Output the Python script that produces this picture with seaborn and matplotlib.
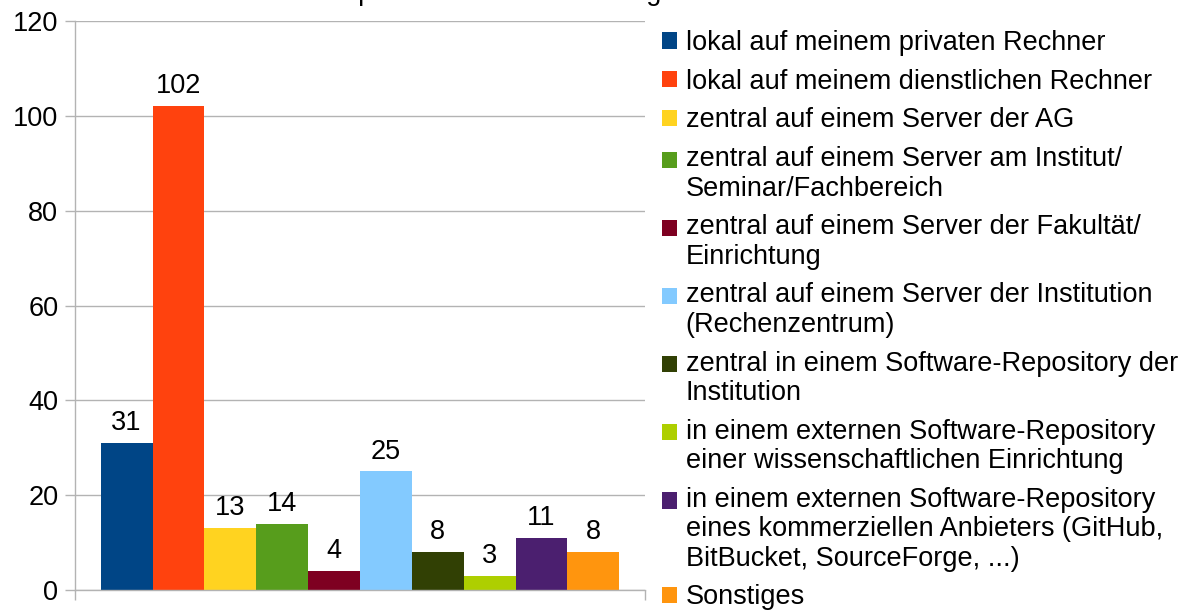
import pandas as pd
import matplotlib
matplotlib.use("Agg")
import matplotlib.pyplot as plt
from matplotlib.patches import Rectangle
from matplotlib.legend_handler import HandlerPatch
import seaborn as sns

# Werte
kategorien = [
    "lokal auf meinem privaten Rechner",
    "lokal auf meinem dienstlichen Rechner",
    "zentral auf einem Server der AG",
    "zentral auf einem Server am Institut/\nSeminar/Fachbereich",
    "zentral auf einem Server der Fakultät/\nEinrichtung",
    "zentral auf einem Server der Institution\n(Rechenzentrum)",
    "zentral in einem Software-Repository der\nInstitution",
    "in einem externen Software-Repository\neiner wissenschaftlichen Einrichtung",
    "in einem externen Software-Repository\neines kommerziellen Anbieters (GitHub,\nBitBucket, SourceForge, ...)",
    "Sonstiges",
]
anzahl = [31, 102, 13, 14, 4, 25, 8, 3, 11, 8]
farben = ["#004586", "#ff420e", "#ffd320", "#579d1c", "#7e0021",
          "#83caff", "#314004", "#aecf00", "#4b1f6f", "#ff950e"]
y_ticks = [0, 20, 40, 60, 80, 100, 120]
titel = "Speicherort der Forschungssoftware"

df = pd.DataFrame({"gruppe": [""] * len(kategorien), "kategorie": kategorien, "anzahl": anzahl})

sns.set_style("white")
plt.rcParams["font.family"] = ["Liberation Sans", "DejaVu Sans"]
plt.rcParams["text.color"] = "black"
fs = 19.5
zeilen_abstand = 1.17
grau = "#b3b3b3"


# Legendenkästchen auf Höhe der ersten Zeile statt mittig
class ErsteZeile(HandlerPatch):
    def __init__(self, n, versatz):
        super().__init__()
        self.n = n
        self.versatz = versatz

    def create_artists(self, legend, orig_handle, xdescent, ydescent,
                       width, height, fontsize, trans):
        r = Rectangle((-xdescent, -ydescent + (self.n - 1) * self.versatz / 2),
                      width, height)
        self.update_prop(r, orig_handle, legend)
        r.set_transform(trans)
        return [r]


fig = plt.figure(figsize=(11.87, 6.12), dpi=100)
ax = fig.add_axes([75 / 1187, 1 - 590 / 612, 570 / 1187, 569 / 612])

sns.barplot(data=df, x="gruppe", y="anzahl", hue="kategorie", hue_order=kategorien,
            palette=farben, saturation=1, width=0.91, linewidth=0, legend=False, ax=ax)

for c in ax.containers:
    ax.bar_label(c, fmt="%d", padding=5, fontsize=fs, color="black")

ax.set_xlim(-0.5, 0.5)
ax.set_ylim(0, 120)
ax.set_yticks(y_ticks)
ax.set_xticks([-0.5, 0.5])
ax.set_xticklabels([])
ax.set_xlabel("")
ax.set_ylabel("")
ax.grid(axis="y", color=grau, linewidth=1)
ax.set_axisbelow(True)
for s in ["top", "right"]:
    ax.spines[s].set_visible(False)
for s in ["left", "bottom"]:
    ax.spines[s].set_color(grau)
    ax.spines[s].set_linewidth(1)
ax.tick_params(axis="both", length=7.5, width=1, color=grau, labelsize=fs,
               labelcolor="black", direction="out", left=True, bottom=True, pad=4.5)

handles = [c.patches[0] for c in ax.containers]
hmap = {h: ErsteZeile(k.count("\n") + 1, fs * 1.075) for h, k in zip(handles, kategorien)}
leg = fig.legend(handles, kategorien, loc="upper left", handler_map=hmap,
                 bbox_to_anchor=(662 / 1187, 1 - 30 / 612), frameon=False,
                 fontsize=fs, borderpad=0, borderaxespad=0,
                 handlelength=0.55, handleheight=0.55, handletextpad=0.33,
                 labelspacing=0.47)
for t in leg.get_texts():
    t.set_linespacing(zeilen_abstand)
    t.set_color("black")

# Titel ist oben abgeschnitten, nur Unterlängen sichtbar
fig.text(340 / 1187, 1.0, titel, fontsize=fs, ha="left", va="baseline")

fig.savefig("out.png", dpi=100)
